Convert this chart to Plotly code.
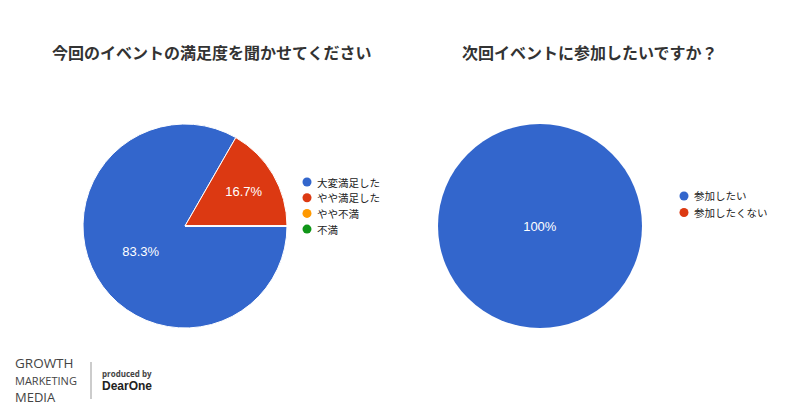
import plotly.graph_objects as go

W, H = 800, 420
OFF = 8  # page body margin offset

q1_labels = ["大変満足した", "やや満足した", "やや不満", "不満"]
q1_values = [83.3, 16.7, 0, 0]
q2_labels = ["参加したい", "参加したくない"]
q2_values = [100, 0]
colors = ["#3366cc", "#dc3912", "#ff9900", "#109618"]

def px_x(v):
    return (v - OFF) / W

def px_y(v):
    return 1 - (v - OFF) / H

fig = go.Figure()

r = 102
for cx, cy, labels, values, lw in [(185, 226, q1_labels, q1_values, 1), (540, 226, q2_labels, q2_values, 0)]:
    texts = [("100%" if v == 100 else f"{v:.1f}%") if v > 0 else "" for v in values]
    fig.add_trace(go.Pie(
        labels=labels, values=values, sort=False, direction="clockwise", rotation=90,
        marker=dict(colors=colors[:len(values)], line=dict(color="white", width=lw)),
        text=texts, textinfo="text", textposition="inside", insidetextorientation="horizontal",
        textfont=dict(color="white", size=13, family="Liberation Sans, Arial"),
        domain=dict(x=[px_x(cx - r), px_x(cx + r)], y=[px_y(cy + r), px_y(cy - r)]),
        showlegend=False, hoverinfo="label+percent",
    ))

fig.update_layout(
    width=W, height=H, margin=dict(l=0, r=0, t=0, b=0),
    paper_bgcolor="white", plot_bgcolor="white",
)

# legends: circle + label
leg_font = dict(size=10.5, color="#222222", family="Noto Sans CJK JP")
def add_legend(x0, y0, labels, step):
    for i, lab in enumerate(labels):
        cy = y0 + i * step
        rr = 4.5
        fig.add_shape(type="circle", xref="paper", yref="paper",
                      x0=px_x(x0 - rr), x1=px_x(x0 + rr), y0=px_y(cy + rr), y1=px_y(cy - rr),
                      fillcolor=colors[i], line=dict(width=0))
        fig.add_annotation(text=lab, x=px_x(x0 + 8), y=px_y(cy), xref="paper", yref="paper",
                           showarrow=False, xanchor="left", yanchor="middle", font=leg_font)

add_legend(307, 182, q1_labels, 15.7)
add_legend(684, 196, q2_labels, 16.5)

title_font = dict(size=16, color="#333333", family="Noto Sans CJK JP")
fig.add_annotation(text="<b>今回のイベントの満足度を聞かせてください</b>", x=px_x(212), y=px_y(52),
                   xref="paper", yref="paper", showarrow=False, font=title_font,
                   xanchor="center", yanchor="middle")
fig.add_annotation(text="<b>次回イベントに参加したいですか？</b>", x=px_x(590), y=px_y(52),
                   xref="paper", yref="paper", showarrow=False, font=title_font,
                   xanchor="center", yanchor="middle")

# logo
fig.add_annotation(
    text="<span style='font-size:13.5px'>GROWTH</span><br><span style='font-size:11px'>MARKETING</span><br>MEDIA",
    x=px_x(14), y=px_y(380), xref="paper", yref="paper", align="left",
    showarrow=False, xanchor="left", yanchor="middle", borderpad=0,
    font=dict(size=13, color="#444444", family="Open Sans"))
fig.add_shape(type="line", x0=px_x(91), x1=px_x(91), y0=px_y(362), y1=px_y(399),
              xref="paper", yref="paper", line=dict(color="#999999", width=1))
fig.add_annotation(
    text="<span style='font-size:8px'><b>produced by</b></span><br><span style='font-family:Liberation Sans;font-size:12px;color:#222222'><b>DearOne</b></span>",
    x=px_x(101), y=px_y(380), xref="paper", yref="paper", align="left",
    showarrow=False, xanchor="left", yanchor="middle", borderpad=0,
    font=dict(size=10, color="#444444", family="Open Sans"))

fig.write_html("out.html")
